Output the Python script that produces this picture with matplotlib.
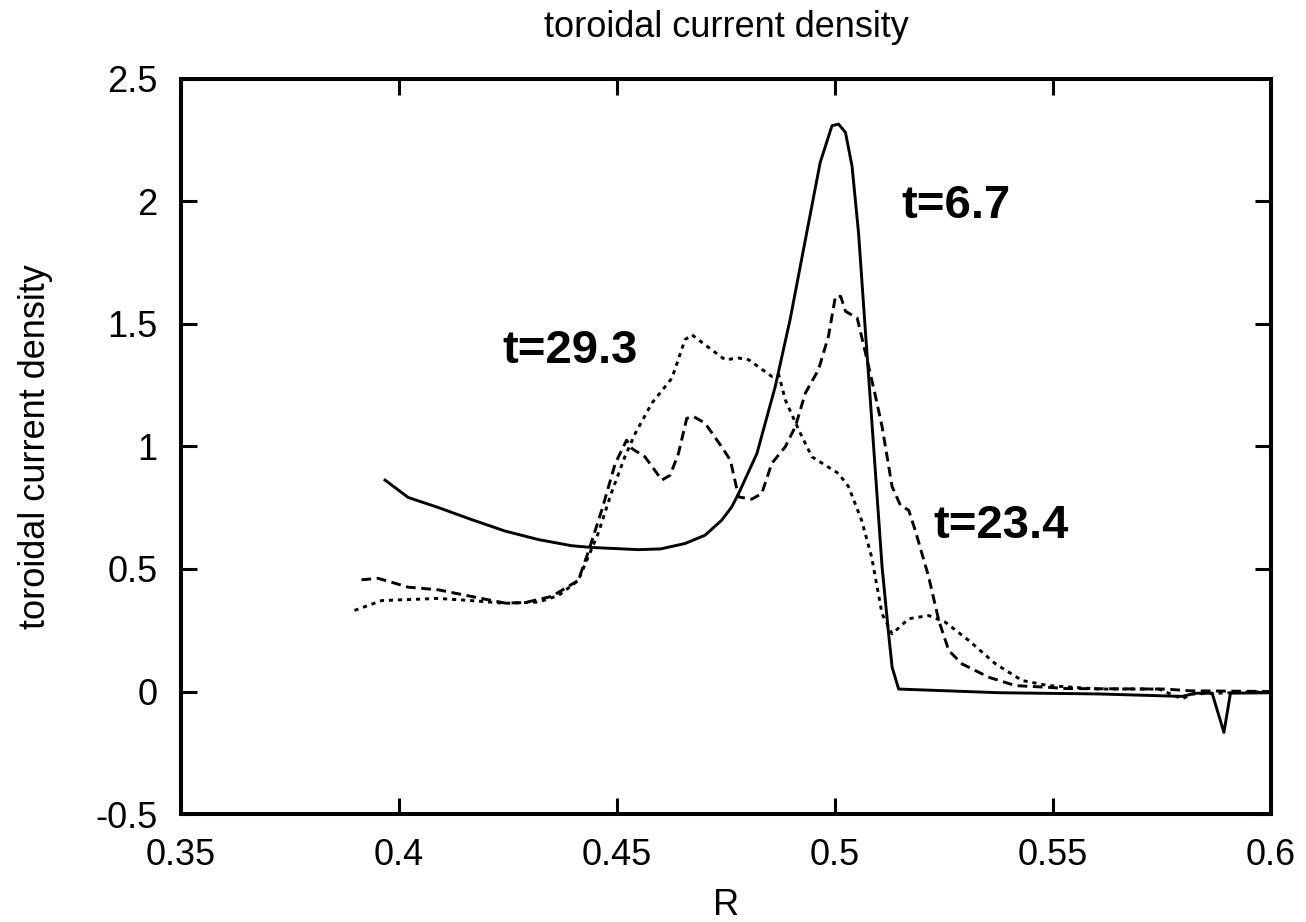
import matplotlib
matplotlib.use("Agg")
import matplotlib.pyplot as plt

plt.rcParams['font.family'] = ['Liberation Sans', 'DejaVu Sans']
plt.rcParams['lines.scale_dashes'] = False

# t = 6.7 (solid)
r_67 = [0.3968, 0.4021, 0.409, 0.4166, 0.4243, 0.432, 0.4396, 0.4441, 0.4549, 0.46,
        0.4656, 0.4702, 0.474, 0.4763, 0.4779, 0.4821, 0.4863, 0.4897, 0.4916, 0.4966,
        0.4993, 0.5008, 0.5024, 0.5039, 0.5054, 0.507, 0.5081, 0.5108, 0.5123, 0.5131,
        0.5146, 0.5376, 0.5605, 0.5796, 0.5827, 0.5865, 0.5892, 0.5907, 0.6]
j_67 = [0.863, 0.792, 0.751, 0.702, 0.655, 0.62, 0.595, 0.588, 0.579, 0.582,
        0.604, 0.638, 0.699, 0.753, 0.808, 0.972, 1.245, 1.518, 1.695, 2.159,
        2.309, 2.316, 2.282, 2.145, 1.872, 1.463, 1.19, 0.508, 0.235, 0.099,
        0.01, -0.005, -0.01, -0.02, -0.007, -0.007, -0.167, -0.007, -0.005]

# t = 23.4 (dashed)
r_234 = [0.3914, 0.3952, 0.4021, 0.409, 0.4166, 0.4243, 0.4289, 0.435, 0.4411, 0.4434,
         0.4465, 0.4496, 0.4522, 0.4534, 0.4564, 0.4603, 0.4622, 0.4641, 0.466, 0.4676,
         0.4702, 0.474, 0.476, 0.4779, 0.4809, 0.4832, 0.4855, 0.4886, 0.4909, 0.4932,
         0.4962, 0.4985, 0.5001, 0.5013, 0.5024, 0.5051, 0.507, 0.5093, 0.5108, 0.5131,
         0.515, 0.5169, 0.5184, 0.5215, 0.5238, 0.5261, 0.5291, 0.5353, 0.5414, 0.549,
         0.5528, 0.5758, 0.5812, 0.6]
j_234 = [0.456, 0.462, 0.426, 0.415, 0.388, 0.361, 0.363, 0.388, 0.453, 0.569,
         0.74, 0.931, 1.026, 0.992, 0.958, 0.863, 0.883, 0.972, 1.115, 1.122,
         1.095, 0.999, 0.944, 0.794, 0.785, 0.808, 0.931, 0.999, 1.081, 1.218,
         1.313, 1.45, 1.613, 1.613, 1.552, 1.524, 1.381, 1.204, 1.081, 0.836,
         0.76, 0.74, 0.658, 0.467, 0.29, 0.167, 0.113, 0.058, 0.024, 0.017,
         0.012, 0.01, 0.003, 0.0]

# t = 29.3 (dotted)
r_293 = [0.3898, 0.396, 0.409, 0.4166, 0.4243, 0.432, 0.4366, 0.4411, 0.4457, 0.4487,
         0.4518, 0.4542, 0.458, 0.4626, 0.4656, 0.4672, 0.4702, 0.4748, 0.4779, 0.4802,
         0.4855, 0.4871, 0.4886, 0.4917, 0.4947, 0.5008, 0.5031, 0.5061, 0.5084, 0.5108,
         0.5131, 0.5169, 0.5215, 0.5253, 0.5307, 0.5368, 0.5429, 0.549, 0.5605, 0.5743,
         0.5796, 0.582, 0.6]
j_293 = [0.331, 0.371, 0.38, 0.371, 0.36, 0.365, 0.392, 0.453, 0.646, 0.81,
         0.958, 1.054, 1.177, 1.279, 1.436, 1.456, 1.415, 1.354, 1.361, 1.354,
         1.286, 1.293, 1.19, 1.067, 0.958, 0.89, 0.836, 0.699, 0.549, 0.317,
         0.235, 0.297, 0.31, 0.283, 0.208, 0.113, 0.045, 0.024, 0.01, 0.01,
         -0.03, -0.01, 0.0]

labels = ["t=6.7", "t=23.4", "t=29.3"]
label_pos = [(0.5153, 1.933), (0.5225, 0.627), (0.4236, 1.341)]

xticks = [0.35, 0.4, 0.45, 0.5, 0.55, 0.6]
yticks = [-0.5, 0, 0.5, 1, 1.5, 2, 2.5]

fig = plt.figure(figsize=(13.06, 9.22), dpi=100)
ax = fig.add_axes([181 / 1306, 1 - 814 / 922, 1090 / 1306, 735 / 922])

ax.plot(r_67, j_67, color="black", lw=2.1, linestyle="-")
ax.plot(r_234, j_234, color="black", lw=2.1, linestyle=(0, (7, 4)))
ax.plot(r_293, j_293, color="black", lw=2.1, linestyle=(0, (3, 3.5)))

for txt, (x, y) in zip(labels, label_pos):
    ax.text(x, y, txt, fontsize=34, fontweight="bold", ha="left", va="baseline")

ax.set_xlim(0.35, 0.6)
ax.set_ylim(-0.5, 2.5)
ax.set_xticks(xticks)
ax.set_yticks(yticks)
ax.set_xticklabels(["0.35", "0.4", "0.45", "0.5", "0.55", "0.6"])
ax.set_yticklabels(["-0.5", "0", "0.5", "1", "1.5", "2", "2.5"])
ax.tick_params(direction="in", length=11.5, width=2.2, labelsize=26,
               top=True, right=True, pad=17)
for s in ax.spines.values():
    s.set_linewidth(2.9)

ax.set_title("toroidal current density", fontsize=26, pad=30)
ax.set_xlabel("R", fontsize=26, labelpad=11)
ax.set_ylabel("toroidal current density", fontsize=26, labelpad=30)

fig.savefig("out.png", dpi=100)
